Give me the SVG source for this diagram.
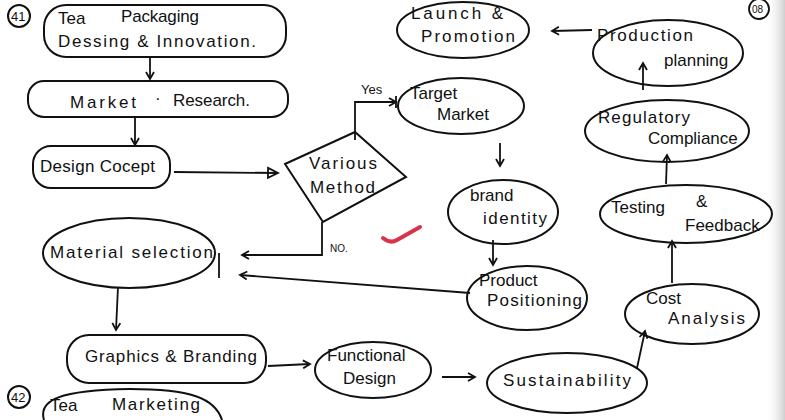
<svg xmlns="http://www.w3.org/2000/svg" width="785" height="420" viewBox="0 0 785 420">
<defs>
<marker id="arr" markerWidth="10" markerHeight="10" refX="8" refY="5" orient="auto" markerUnits="userSpaceOnUse">
<path d="M1,1 L8,5 L1,9" fill="none" stroke="#111" stroke-width="1.8"/>
</marker>
<marker id="tri" markerWidth="14" markerHeight="14" refX="12" refY="7" orient="auto" markerUnits="userSpaceOnUse">
<path d="M2,2 L12,7 L2,12 Z" fill="none" stroke="#111" stroke-width="1.8"/>
</marker>
<linearGradient id="edge" x1="0" y1="0" x2="1" y2="0">
<stop offset="0" stop-color="#fff" stop-opacity="0"/>
<stop offset="1" stop-color="#cfcfcf"/>
</linearGradient>
</defs>
<style>
.s{fill:none;stroke:#111;stroke-width:2}
.c{fill:none;stroke:#111;stroke-width:1.8}
text{font-family:"Liberation Sans","DejaVu Sans",sans-serif;font-size:17px;fill:#111}
.sm{font-size:13px}
.xs{font-size:10px}
</style>
<rect width="785" height="420" fill="#fff"/>
<rect x="765" y="0" width="20" height="420" fill="url(#edge)"/>

<g id="label41"><circle class="s" cx="19" cy="16" r="11"/><text class="sm" x="11" y="21">41</text></g>
<g id="label08"><circle class="c" cx="759" cy="9" r="10"/><text class="xs" x="752" y="13">08</text></g>
<g id="label42"><circle class="s" cx="19" cy="397" r="11"/><text class="sm" x="11" y="402">42</text></g>

<g id="tea-packaging"><rect class="s" x="44" y="5" width="242" height="52" rx="22"/>
<text x="58" y="24">Tea</text><text x="121" y="22" textLength="78">Packaging</text>
<text x="58" y="47" textLength="198">Dessing &amp; Innovation.</text></g>

<g id="market-research"><rect class="s" x="28" y="81" width="260" height="36" rx="16"/>
<text x="70" y="108" textLength="66">Market</text><text x="155" y="104">·</text><text x="173" y="106" textLength="77">Research.</text></g>

<g id="design-concept"><rect class="s" x="33" y="146" width="137" height="42" rx="18"/>
<text x="40" y="172" textLength="115">Design Cocept</text></g>

<g id="various-method"><polygon class="s" points="285,164 355,132 406,177 323,222"/>
<text x="309" y="169" textLength="68">Various</text><text x="310" y="193" textLength="65">Method</text></g>

<g id="target-market"><ellipse class="s" cx="461" cy="106" rx="63" ry="28"/>
<text x="410" y="99">Target</text><text x="437" y="120">Market</text></g>

<g id="brand-identity"><ellipse class="s" cx="503" cy="212" rx="55" ry="32"/>
<text x="470" y="201">brand</text><text x="483" y="224" textLength="64">identity</text></g>

<g id="product-positioning"><ellipse class="s" cx="527" cy="298" rx="60" ry="32"/>
<text x="479" y="286">Product</text><text x="487" y="306" textLength="95">Positioning</text></g>

<g id="material-selection"><ellipse class="s" cx="129" cy="253" rx="86" ry="35"/>
<text x="50" y="258" textLength="163">Material selection</text></g>

<g id="graphics-branding"><rect class="s" x="67" y="335" width="199" height="48" rx="22"/>
<text x="85" y="362" textLength="172">Graphics &amp; Branding</text></g>

<g id="functional-design"><ellipse class="s" cx="373" cy="370" rx="58" ry="28"/>
<text x="327" y="361">Functional</text><text x="343" y="384">Design</text></g>

<g id="sustainability"><ellipse class="s" cx="567" cy="383" rx="80" ry="30"/>
<text x="503" y="386" textLength="128">Sustainability</text></g>

<g id="cost-analysis"><ellipse class="s" cx="692" cy="314" rx="67" ry="30"/>
<text x="646" y="304">Cost</text><text x="668" y="324" textLength="77">Analysis</text></g>

<g id="testing-feedback"><ellipse class="s" cx="686" cy="214" rx="86" ry="29"/>
<text x="611" y="213">Testing</text><text x="696" y="207">&amp;</text><text x="685" y="231">Feedback</text></g>

<g id="regulatory-compliance"><ellipse class="s" cx="667" cy="131" rx="82" ry="31"/>
<text x="598" y="123" textLength="92">Regulatory</text><text x="648" y="144">Compliance</text></g>

<g id="production-planning"><ellipse class="s" cx="668" cy="53" rx="75" ry="33"/>
<text x="597" y="41" textLength="96">Production</text><text x="664" y="66">planning</text></g>

<g id="launch-promotion"><ellipse class="s" cx="463" cy="30" rx="66" ry="28"/>
<text x="411" y="19" textLength="92">Launch &amp;</text><text x="421" y="42" textLength="94">Promotion</text></g>

<g id="tea-marketing"><path class="s" d="M44,420 C38,400 60,390 130,389 C190,389 215,398 222,420"/>
<text x="50" y="411">Tea</text><text x="112" y="410" textLength="88">Marketing</text></g>

<g id="connectors">
<line class="c" x1="150" y1="58" x2="150" y2="79" marker-end="url(#arr)"/>
<line class="c" x1="135" y1="118" x2="135" y2="145" marker-end="url(#arr)"/>
<line class="c" x1="174" y1="172" x2="278" y2="173" marker-end="url(#tri)"/>
<polyline class="c" points="355,140 355,102 396,102" marker-end="url(#arr)"/>
<line class="c" x1="396" y1="96" x2="396" y2="108"/>
<text class="sm" x="361" y="94">Yes</text>
<polyline class="c" points="322,222 322,255 242,255" marker-end="url(#arr)"/>
<text class="xs" x="330" y="252">NO.</text>
<line class="c" x1="500" y1="143" x2="500" y2="166" marker-end="url(#arr)"/>
<line class="c" x1="493" y1="240" x2="493" y2="265" marker-end="url(#arr)"/>
<line class="c" x1="470" y1="293" x2="240" y2="275" marker-end="url(#arr)"/>
<line class="c" x1="219" y1="253" x2="219" y2="278"/>
<line class="c" x1="118" y1="287" x2="116" y2="330" marker-end="url(#arr)"/>
<line class="c" x1="268" y1="366" x2="310" y2="364" marker-end="url(#arr)"/>
<line class="c" x1="442" y1="377" x2="475" y2="377" marker-end="url(#arr)"/>
<line class="c" x1="637" y1="368" x2="645" y2="331" marker-end="url(#arr)"/>
<line class="c" x1="672" y1="283" x2="672" y2="241" marker-end="url(#arr)"/>
<line class="c" x1="666" y1="184" x2="667" y2="155" marker-end="url(#arr)"/>
<line class="c" x1="643" y1="90" x2="643" y2="63" marker-end="url(#arr)"/>
<line class="c" x1="592" y1="30" x2="552" y2="31" marker-end="url(#arr)"/>
</g>
<path d="M383,238 Q390,244 397,240 L420,227" fill="none" stroke="#d8334a" stroke-width="4" stroke-linecap="round"/>
</svg>
